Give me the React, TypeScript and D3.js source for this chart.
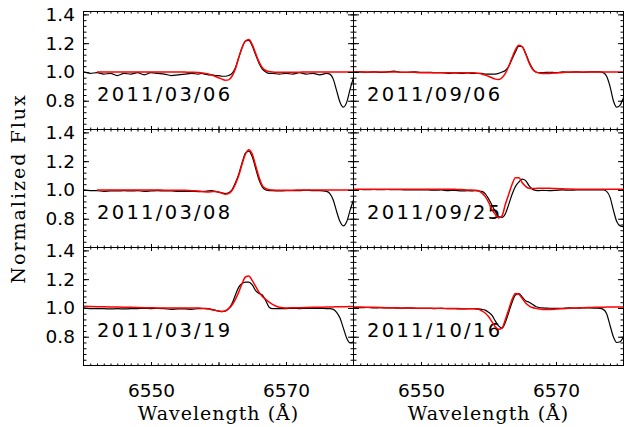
import * as d3 from "d3";
import React, { useRef, useEffect } from "react";

const width = 624;
const height = 427;
const margin = { top: 11.5, left: 83.5 };
const panelW = 270;
const panelH = 118;

// wavelength grid (Å) shared by every spectrum
const wave = [
	6540, 6541, 6542, 6543, 6544, 6545, 6546, 6547, 6548, 6549, 6550, 6551, 6552, 6553, 6554, 6555, 6556, 6557,
	6557.5, 6558, 6558.5, 6559, 6559.5, 6560, 6560.5, 6561, 6561.5, 6562, 6562.5, 6563, 6563.5, 6564, 6564.5,
	6565, 6565.5, 6566, 6566.5, 6567, 6567.5, 6568,
	6569, 6570, 6571, 6572, 6573, 6574, 6575, 6576,
	6576.5, 6577, 6577.5, 6578, 6578.5, 6579, 6579.5, 6580,
];

const dates = ["2011/03/06", "2011/09/06", "2011/03/08", "2011/09/25", "2011/03/19", "2011/10/16"];

// observed (black) and model (red) normalized flux
const obs0306 = [
	1.0, 0.99, 0.995, 0.985, 0.99, 0.975, 0.99, 0.985, 0.995, 0.98, 0.995, 0.99, 0.985, 0.975, 0.98, 0.985, 0.99, 0.985,
	0.99, 0.985, 0.98, 0.98, 0.975, 0.975, 0.97, 0.97, 0.975, 0.99, 1.03, 1.1, 1.17, 1.215, 1.22, 1.18, 1.12, 1.06, 1.02, 1.0, 0.99, 0.99,
	0.985, 0.99, 0.985, 0.995, 0.985, 0.99, 0.98, 0.99,
	0.985, 0.95, 0.87, 0.79, 0.755, 0.79, 0.88, 0.96,
];
const fit0306 = [
	null, null, 1.0, 1.0, 1.0, 1.0, 1.0, 1.0, 1.0, 1.0, 1.0, 1.0, 1.0, 1.0, 1.0, 0.999, 0.998, 0.996,
	0.993, 0.99, 0.985, 0.978, 0.97, 0.96, 0.95, 0.942, 0.945, 0.97, 1.02, 1.1, 1.17, 1.215, 1.225, 1.19, 1.13, 1.07, 1.03, 1.01, 1.003, 1.0,
	0.998, 0.997, 0.997, 0.998, 1.0, 1.0, 1.0, 1.0,
	1.0, 1.0, 1.0, 1.0, 1.0, 1.0, 1.0, 1.0,
];
const obs0906 = [
	1.0, 1.0, 0.998, 1.0, 0.997, 1.0, 1.005, 0.998, 0.998, 1.0, 0.997, 0.998, 0.995, 0.995, 0.99, 0.993, 0.99, 0.993,
	0.99, 0.99, 0.99, 0.99, 0.985, 0.985, 0.985, 0.985, 0.99, 1.0, 1.01, 1.04, 1.09, 1.14, 1.18, 1.175, 1.13, 1.07, 1.025, 1.0, 0.995, 0.995,
	0.998, 0.995, 1.0, 0.998, 1.0, 0.998, 1.0, 1.0,
	1.0, 0.995, 0.97, 0.9, 0.8, 0.755, 0.77, 0.82,
];
const fit0906 = [
	1.0, 1.0, 1.0, 1.0, 1.0, 1.0, 1.0, 0.998, 0.998, 0.997, 0.995, 0.995, 0.995, 0.995, 0.995, 0.995, 0.995, 0.995,
	0.995, 0.993, 0.99, 0.985, 0.978, 0.97, 0.96, 0.95, 0.947, 0.96, 0.99, 1.04, 1.1, 1.155, 1.185, 1.175, 1.125, 1.065, 1.02, 1.0, 0.993, 0.99,
	0.99, 0.993, 0.996, 1.0, 1.0, 1.0, 1.0, 1.0,
	1.0, 1.0, 1.0, 1.0, 1.0, 1.0, 1.0, 1.0,
];
const obs0308 = [
	1.0, 0.995, 0.995, 0.99, 0.993, 0.993, 0.995, 0.993, 0.995, 0.99, 0.993, 0.995, 0.993, 0.993, 0.99, 0.99, 0.99, 0.988,
	0.988, 0.99, 0.993, 0.995, 0.99, 0.985, 0.98, 0.975, 0.98, 1.0, 1.05, 1.11, 1.19, 1.255, 1.27, 1.23, 1.15, 1.07, 1.02, 1.0, 0.995, 0.995,
	0.993, 0.995, 0.995, 0.995, 0.998, 0.995, 0.995, 0.99,
	0.975, 0.93, 0.85, 0.78, 0.75, 0.78, 0.86, 0.93,
];
const fit0308 = [
	null, null, 1.0, 1.0, 1.0, 1.0, 1.0, 1.0, 1.0, 1.0, 1.0, 1.0, 0.998, 0.998, 0.998, 0.997, 0.995, 0.993,
	0.99, 0.987, 0.985, 0.988, 0.99, 0.985, 0.978, 0.97, 0.975, 0.995, 1.04, 1.1, 1.18, 1.25, 1.28, 1.25, 1.17, 1.09, 1.03, 1.01, 1.002, 1.0,
	0.998, 0.998, 0.998, 1.0, 1.0, 1.0, 1.0, 1.0,
	1.0, 1.0, 1.0, 1.0, 1.0, 1.0, 1.0, 1.0,
];
const obs0925 = [
	1.003, 1.003, 1.002, 1.003, 1.002, 1.003, 1.002, 1.002, 1.0, 1.0, 1.0, 1.0, 0.998, 1.0, 0.995, 0.997, 0.993, 0.995,
	0.993, 0.995, 0.993, 0.99, 0.975, 0.94, 0.895, 0.85, 0.815, 0.81, 0.835, 0.9, 0.97, 1.025, 1.055, 1.075, 1.065, 1.03, 1.005, 0.997, 0.995, 0.997,
	0.995, 0.997, 1.0, 0.998, 1.0, 1.0, 1.0, 1.0,
	1.0, 1.0, 0.99, 0.95, 0.86, 0.78, 0.75, 0.745,
];
const fit0925 = [
	1.005, 1.005, 1.005, 1.005, 1.005, 1.005, 1.005, 1.005, 1.005, 1.005, 1.005, 1.005, 1.005, 1.005, 1.005, 1.004, 1.003, 1.0,
	1.0, 0.998, 0.995, 0.98, 0.955, 0.915, 0.865, 0.83, 0.805, 0.82, 0.9, 0.97, 1.04, 1.085, 1.085, 1.05, 1.025, 1.012, 1.01, 1.01, 1.012, 1.012,
	1.012, 1.01, 1.008, 1.006, 1.005, 1.005, 1.005, 1.005,
	1.005, 1.005, 1.005, 1.005, 1.005, 1.005, 1.005, 1.005,
];
const obs0319 = [
	1.0, 0.995, 0.995, 0.995, 0.993, 0.995, 0.993, 0.995, 0.995, 0.997, 0.995, 0.997, 0.995, 0.99, 0.993, 0.993, 0.99, 0.995,
	0.995, 0.997, 0.995, 0.99, 0.985, 0.978, 0.975, 0.978, 0.995, 1.03, 1.09, 1.145, 1.17, 1.18, 1.18, 1.16, 1.12, 1.1, 1.09, 1.05, 1.005, 0.995,
	0.995, 0.995, 0.997, 0.995, 0.997, 0.997, 0.997, 0.995,
	0.995, 0.99, 0.97, 0.93, 0.86, 0.79, 0.757, 0.765,
];
const fit0319 = [
	1.011, 1.01, 1.009, 1.008, 1.007, 1.006, 1.005, 1.004, 1.003, 1.002, 1.001, 1.0, 1.0, 1.0, 1.0, 1.0, 1.0, 0.999,
	0.998, 0.995, 0.992, 0.988, 0.983, 0.978, 0.976, 0.98, 0.995, 1.02, 1.06, 1.11, 1.17, 1.215, 1.222, 1.19, 1.15, 1.11, 1.08, 1.06, 1.04, 1.025,
	1.005, 1.0, 1.001, 1.002, 1.003, 1.004, 1.005, 1.006,
	1.007, 1.007, 1.008, 1.008, 1.009, 1.009, 1.01, 1.01,
];
const obs1016 = [
	1.003, 1.002, 1.003, 1.0, 1.002, 1.0, 1.0, 0.998, 1.0, 0.998, 0.997, 0.998, 0.995, 0.997, 0.995, 0.995, 0.993, 0.995,
	0.995, 0.995, 0.993, 0.99, 0.985, 0.97, 0.95, 0.91, 0.875, 0.86, 0.9, 0.97, 1.04, 1.09, 1.1, 1.075, 1.05, 1.04, 1.025, 1.01, 1.003, 1.0,
	0.998, 0.997, 0.998, 1.0, 0.998, 1.0, 1.0, 0.998,
	0.997, 0.99, 0.96, 0.88, 0.8, 0.76, 0.765, 0.8,
];
const fit1016 = [
	1.007, 1.006, 1.005, 1.004, 1.003, 1.002, 1.001, 1.0, 1.0, 0.999, 0.998, 0.998, 0.997, 0.997, 0.996, 0.996, 0.995, 0.995,
	0.995, 0.993, 0.99, 0.98, 0.965, 0.94, 0.905, 0.87, 0.852, 0.86, 0.92, 0.99, 1.06, 1.1, 1.095, 1.065, 1.035, 1.015, 1.003, 0.997, 0.993, 0.99,
	0.99, 0.992, 0.995, 0.998, 1.0, 1.002, 1.003, 1.004,
	1.005, 1.005, 1.006, 1.006, 1.007, 1.007, 1.007, 1.007,
];

const observed = [obs0306, obs0906, obs0308, obs0925, obs0319, obs1016];
const models = [fit0306, fit0906, fit0308, fit0925, fit0319, fit1016];

const xDomain = [6540, 6580];
const yDomain = [0.6, 1.42];
const xMajor = [6550, 6560, 6570];
const xLabels = [6550, 6570];
const yMajor = [0.8, 1.0, 1.2, 1.4];

const App = () => {
	const d3Container = useRef(null);

	useEffect(() => {
		if (!d3Container.current) return;
		const svg = d3.select(d3Container.current);
		svg.selectAll("*").remove();

		const xMinor = d3.range(6541, 6580, 1);
		const yMinor = d3.range(0.64, 1.42, 0.04);

		observed.forEach((obs, i) => {
			const col = i % 2;
			const row = Math.floor(i / 2);
			const x0 = margin.left + col * panelW;
			const y0 = margin.top + row * panelH;

			const xScale = d3.scaleLinear().domain(xDomain).range([x0, x0 + panelW]);
			const yScale = d3.scaleLinear().domain(yDomain).range([y0 + panelH, y0]);

			const clipId = `panel-clip-${i}`;
			svg.append("clipPath").attr("id", clipId)
				.append("rect")
				.attr("x", x0).attr("y", y0)
				.attr("width", panelW).attr("height", panelH);

			const line = d3.line<number | null>()
				.defined((d) => d !== null)
				.x((d, j) => xScale(wave[j]))
				.y((d: any) => yScale(d))
				.curve(d3.curveMonotoneX);

			const g = svg.append("g");

			g.append("text")
				.attr("x", x0 + 13.5)
				.attr("y", yScale(0.8))
				.attr("font-family", "DejaVu Sans")
				.attr("font-size", 19.5)
				.attr("letter-spacing", 2.3)
				.attr("fill", "black")
				.text(dates[i]);

			const lines = g.append("g").attr("clip-path", `url(#${clipId})`);
			lines.append("path")
				.datum(obs)
				.attr("d", line as any)
				.attr("fill", "none")
				.attr("stroke", "black")
				.attr("stroke-width", 1.2);
			lines.append("path")
				.datum(models[i])
				.attr("d", line as any)
				.attr("fill", "none")
				.attr("stroke", "#ff0000")
				.attr("stroke-width", 1.5);

			const styleAxis = (sel: any) => {
				sel.select(".domain").remove();
				sel.selectAll(".tick line").attr("stroke", "black");
				sel.attr("font-family", "DejaVu Sans").attr("font-size", 18.5);
				sel.selectAll("text").attr("fill", "black");
			};

			// bottom
			g.append("g")
				.attr("transform", `translate(0,${y0 + panelH})`)
				.call(
					d3.axisBottom(xScale)
						.tickValues(xMajor)
						.tickSize(-3.5)
						.tickPadding(18.5)
						.tickFormat((d: any) => (row === 2 && xLabels.includes(d) ? String(d) : ""))
				)
				.call(styleAxis);
			g.append("g")
				.attr("transform", `translate(0,${y0 + panelH})`)
				.call(d3.axisBottom(xScale).tickValues(xMinor).tickSize(-2).tickFormat(() => ""))
				.call(styleAxis);
			// top
			g.append("g")
				.attr("transform", `translate(0,${y0})`)
				.call(d3.axisTop(xScale).tickValues(xMajor).tickSize(-3.5).tickFormat(() => ""))
				.call(styleAxis);
			g.append("g")
				.attr("transform", `translate(0,${y0})`)
				.call(d3.axisTop(xScale).tickValues(xMinor).tickSize(-2).tickFormat(() => ""))
				.call(styleAxis);
			// left
			g.append("g")
				.attr("transform", `translate(${x0},0)`)
				.call(
					d3.axisLeft(yScale)
						.tickValues(yMajor)
						.tickSize(-5.5)
						.tickPadding(8.5)
						.tickFormat((d: any) => (col === 0 ? d3.format(".1f")(d) : ""))
				)
				.call(styleAxis);
			g.append("g")
				.attr("transform", `translate(${x0},0)`)
				.call(d3.axisLeft(yScale).tickValues(yMinor).tickSize(-3).tickFormat(() => ""))
				.call(styleAxis);
			// right
			g.append("g")
				.attr("transform", `translate(${x0 + panelW},0)`)
				.call(d3.axisRight(yScale).tickValues(yMajor).tickSize(-5.5).tickFormat(() => ""))
				.call(styleAxis);
			g.append("g")
				.attr("transform", `translate(${x0 + panelW},0)`)
				.call(d3.axisRight(yScale).tickValues(yMinor).tickSize(-3).tickFormat(() => ""))
				.call(styleAxis);

			g.append("rect")
				.attr("x", x0).attr("y", y0)
				.attr("width", panelW).attr("height", panelH)
				.attr("fill", "none")
				.attr("stroke", "black")
				.attr("stroke-width", 1);

			if (row === 2) {
				g.append("text")
					.attr("x", x0 + panelW / 2)
					.attr("y", 420)
					.attr("text-anchor", "middle")
					.attr("font-family", "DejaVu Serif")
					.attr("font-size", 19)
					.attr("letter-spacing", 1)
					.attr("fill", "black")
					.text("Wavelength (Å)");
			}
		});

		svg.append("text")
			.attr("transform", `translate(25,${margin.top + (3 * panelH) / 2}) rotate(-90)`)
			.attr("text-anchor", "middle")
			.attr("font-family", "DejaVu Serif")
			.attr("font-size", 19)
			.attr("letter-spacing", 2)
			.attr("fill", "black")
			.text("Normalized Flux");
	}, [d3Container.current]);

	return (
		<svg
			width={width}
			height={height}
			style={{ position: "absolute", left: 0, top: 0, backgroundColor: "white" }}
			ref={d3Container}
		/>
	);
};

export default App;
